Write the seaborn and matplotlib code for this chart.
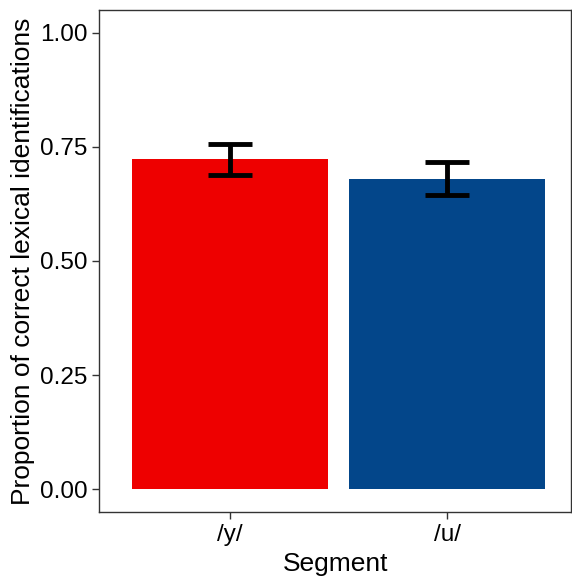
import matplotlib
matplotlib.use("Agg")
import matplotlib.pyplot as plt
import seaborn as sns
import pandas as pd

segments = ["/y/", "/u/"]
proportions = [0.723, 0.679]
ci_low = [0.688, 0.644]
ci_high = [0.757, 0.716]
colors = ["#EE0000", "#03468A"]

sns.set_theme(style="white")
plt.rcParams['font.family'] = ['Liberation Sans', 'DejaVu Sans']

df = pd.DataFrame({"Segment": segments, "Proportion": proportions})

fig = plt.figure(figsize=(5.72, 5.77), dpi=100)
ax = fig.add_axes([0.173, 0.1127, 0.826, 0.870])

sns.barplot(data=df, x="Segment", y="Proportion", hue="Segment",
            palette=colors, width=0.9, ax=ax, legend=False, errorbar=None,
            saturation=1, linewidth=0)

xs = list(range(len(segments)))
yerr = [[p - lo for p, lo in zip(proportions, ci_low)],
        [hi - p for p, hi in zip(proportions, ci_high)]]
ax.errorbar(xs, proportions, yerr=yerr, fmt="none", ecolor="black",
            elinewidth=3.5, capsize=15.5, capthick=3.5, zorder=5)

ax.set_xlim(-0.6, 1.57)
ax.set_ylim(-0.05, 1.05)
ax.set_yticks([0, 0.25, 0.5, 0.75, 1.0])
ax.set_yticklabels(["0.00", "0.25", "0.50", "0.75", "1.00"])
ax.set_xlabel("Segment", fontsize=19, color="black", labelpad=4)
ax.set_ylabel("Proportion of correct lexical identifications", fontsize=19,
              color="black", labelpad=4)
ax.tick_params(axis="both", which="both", length=5, width=1, color="#333333",
               labelsize=17.5, labelcolor="black", direction="out", pad=3,
               bottom=True, left=True)
ax.tick_params(axis="x", pad=4)
for s in ax.spines.values():
    s.set_color("#333333")
    s.set_linewidth(1)
    s.set_visible(True)

fig.savefig("out.png", dpi=100, facecolor="white")
